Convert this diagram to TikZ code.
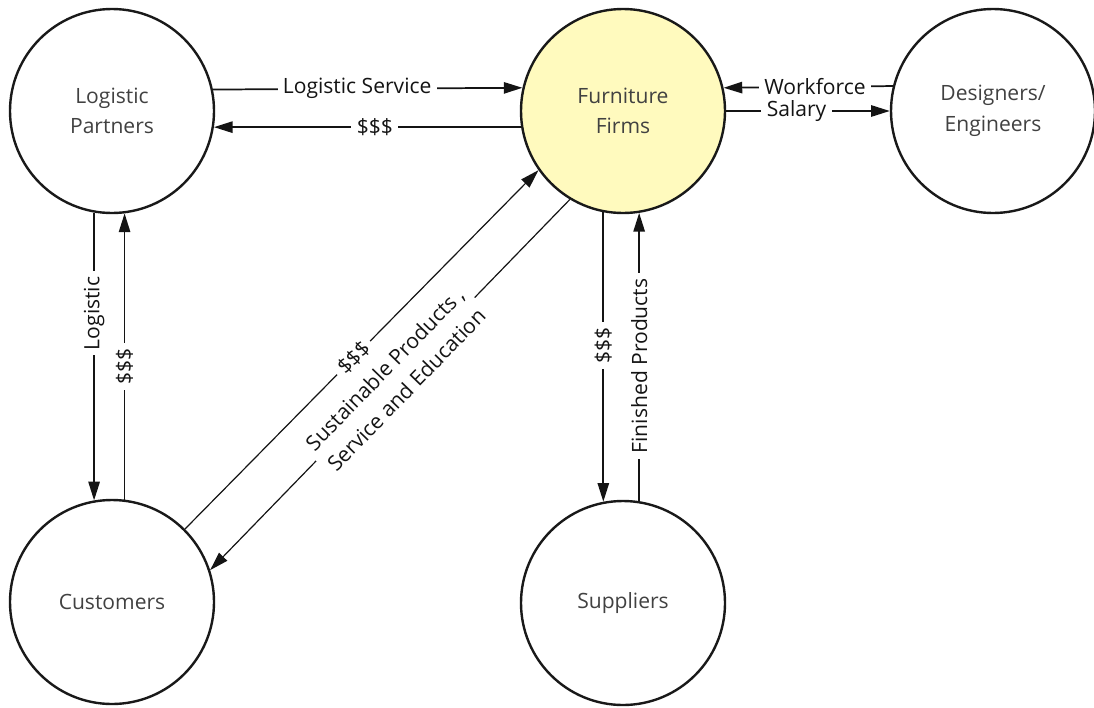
\documentclass[tikz,border=0pt]{standalone}
\usepackage{fontspec}
\setmainfont{Open Sans}
\usetikzlibrary{arrows.meta}
\definecolor{firmfill}{RGB}{255,250,190}
\definecolor{nodetext}{RGB}{65,65,65}
\definecolor{linkink}{RGB}{20,20,20}
\begin{document}
\begin{tikzpicture}[x=0.75pt,y=-0.75pt,
  actor/.style={circle,draw=black!90,line width=1.8pt,minimum size=153pt,
    inner sep=0pt,align=center,text=nodetext,font=\fontsize{15.8}{23}\selectfont},
  flow/.style={draw=linkink,line width=1.3pt,-{Triangle[length=14pt,width=8.5pt]}},
  thinflow/.style={flow,line width=0.9pt},
  tag/.style={fill=white,inner xsep=4pt,inner ysep=1pt,text=linkink,
    font=\fontsize{15.8}{22.5}\selectfont}]
\useasboundingbox (0,0) rectangle (1094,707);

% the five actors
\node[actor,fill=firmfill] (ff) at (623,111) {Furniture\\Firms};
\node[actor] (lp) at (112,111) {Logistic\\Partners};
\node[actor] (de) at (993,111) {Designers/\\Engineers};
\node[actor] (cu) at (112,602) {Customers};
\node[actor] (su) at (623,603) {Suppliers};

% logistic partners <-> firms
\draw[flow] (lp.12.5) -- node[tag,pos=0.466]{Logistic Service} (ff.167.5);
\draw[flow] (ff.189) -- node[tag,pos=0.476]{\$\$\$} (lp.-9);

% designers <-> firms
\draw[flow] (de.166.1) -- node[tag,pos=0.46]{Workforce} (ff.13.6);
\draw[flow] (ff.0) -- node[tag,pos=0.43]{Salary} (de.180);

% logistic partners <-> customers
\draw[flow] (lp.-100.2) -- node[tag,rotate=90,pos=0.35]{Logistic} (cu.100.2);
\draw[flow] (cu.83.2) -- node[tag,rotate=90,pos=0.464]{\$\$\$} (lp.-83.2);

% firms <-> suppliers
\draw[flow] (ff.-101.9) -- node[tag,rotate=90,pos=0.46]{\$\$\$} (su.101.9);
\draw[flow] (su.81.5) -- node[tag,rotate=90,pos=0.469]{Finished Products} (ff.-81.5);

% customers <-> firms
\draw[thinflow] (cu.45.8) -- node[tag,sloped,pos=0.477]{\$\$\$} (ff.215.3);
\draw[thinflow] (ff.239.8) -- node[tag,sloped,pos=0.485,align=center]
  {Sustainable Products ,\\Service and Education} (cu.18.6);
\end{tikzpicture}
\end{document}
